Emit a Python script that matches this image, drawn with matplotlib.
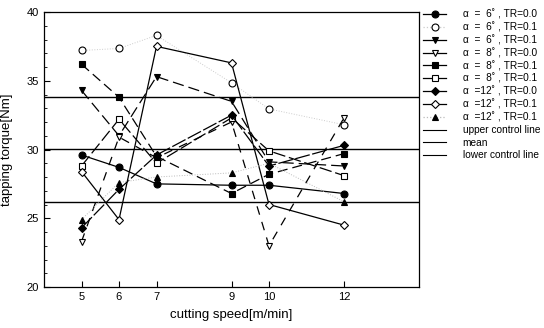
import numpy as np
import matplotlib
matplotlib.use('Agg')
import matplotlib.pyplot as plt
from matplotlib.lines import Line2D

plt.rcParams['font.family'] = ['Liberation Sans', 'DejaVu Sans']

# cutting speed [m/min]
speed = [5, 6, 7, 9, 10, 12]

# tapping torque [Nm] per series
a6_tr00 = [29.6, 28.7, 27.5, 27.4, 27.4, 26.8]
a6_tr01 = [37.2, 37.35, 38.3, 34.85, 32.95, 31.8]
a6_tr01b = [34.3, 31.0, 35.3, 33.5, 29.1, 28.8]
a8_tr00 = [23.3, 30.9, 29.4, 32.0, 23.0, 32.3]
a8_tr01 = [36.2, 33.8, 29.5, 26.8, 28.2, 29.7]
a8_tr01b = [28.8, 32.2, 29.0, 32.3, 29.9, 28.1]
a12_tr00 = [24.3, 27.1, 29.6, 32.5, 28.8, 30.3]
a12_tr01 = [28.4, 24.9, 37.5, 36.3, 26.0, 24.5]
a12_tr01b = [24.9, 27.6, 28.0, 28.3, 29.0, 26.2]

labels = ['α  =  6˚ , TR=0.0', 'α  =  6˚ , TR=0.1', 'α  =  6˚ , TR=0.1',
          'α  =  8˚ , TR=0.0', 'α  =  8˚ , TR=0.1', 'α  =  8˚ , TR=0.1',
          'α  =12˚ , TR=0.0', 'α  =12˚ , TR=0.1', 'α  =12˚ , TR=0.1']

# control chart lines
upper_cl = 33.8
mean_cl = 30.05
lower_cl = 26.2

fig = plt.figure(figsize=(5.44, 3.28), dpi=100)
ax = fig.add_axes([44 / 544, 1 - 287 / 328, 375 / 544, 275 / 328])

ms = 5
lw = 0.9
series = [
    (a6_tr00, dict(marker='o', mfc='black', ls='-', color='black')),
    (a6_tr01, dict(marker='o', mfc='white', ls=':', color='#cccccc', mec='black')),
    (a6_tr01b, dict(marker='v', mfc='black', ls=(0, (9, 4)), color='black')),
    (a8_tr00, dict(marker='v', mfc='white', ls=(0, (7, 6)), color='black')),
    (a8_tr01, dict(marker='s', mfc='black', ls=(0, (8, 4)), color='black')),
    (a8_tr01b, dict(marker='s', mfc='white', ls=(0, (10, 3)), color='black')),
    (a12_tr00, dict(marker='D', mfc='black', ls=(0, (12, 2)), color='black')),
    (a12_tr01, dict(marker='D', mfc='white', ls='-', color='black')),
    (a12_tr01b, dict(marker='^', mfc='black', ls=':', color='#bbbbbb', mec='black')),
]

handles = []
for vals, st in series:
    mk = st['marker']
    size = ms - 0.8 if mk == 'D' else ms
    lwi = 0.7 if st['ls'] == ':' else lw
    ax.plot(speed, vals, marker=mk, markersize=size,
            markerfacecolor=st['mfc'], markeredgecolor=st.get('mec', 'black'),
            markeredgewidth=0.8, linestyle=st['ls'], color=st['color'],
            linewidth=lwi, zorder=3)
    handles.append(Line2D([], [], marker=mk, markersize=size, markerfacecolor=st['mfc'],
                          markeredgecolor='black', markeredgewidth=0.8,
                          linestyle='-' if st['ls'] != ':' else ':',
                          color=st['color'], linewidth=lw))

for yv in [upper_cl, mean_cl, lower_cl]:
    ax.axhline(yv, color='black', linewidth=1.0, zorder=2)
handles += [Line2D([], [], color='black', linewidth=0.8)] * 3
labels = labels + ['upper control line', 'mean', 'lower control line']

ax.set_xlim(4, 14)
ax.set_ylim(20, 40)
ax.set_xticks(speed)
ax.set_yticks([20, 25, 30, 35, 40])
ax.set_yticks(np.arange(20, 41, 1), minor=True)
ax.tick_params(axis='both', direction='in', labelsize=8, length=4, width=0.8)
ax.tick_params(axis='y', which='minor', direction='in', length=2.5, width=0.6)
for sp in ax.spines.values():
    sp.set_linewidth(0.9)

ax.set_xlabel('cutting speed[m/min]', fontsize=9.5, labelpad=5)
ax.set_ylabel('tapping torque[Nm]', fontsize=9.5, labelpad=10)

fig.legend(handles, labels, loc='upper left', bbox_to_anchor=(421 / 544, 1 - 7 / 328),
           frameon=False, fontsize=7.3, handlelength=2.3, handletextpad=1.6,
           labelspacing=0.25, borderaxespad=0, borderpad=0.2)

fig.savefig('out.png', dpi=100)
